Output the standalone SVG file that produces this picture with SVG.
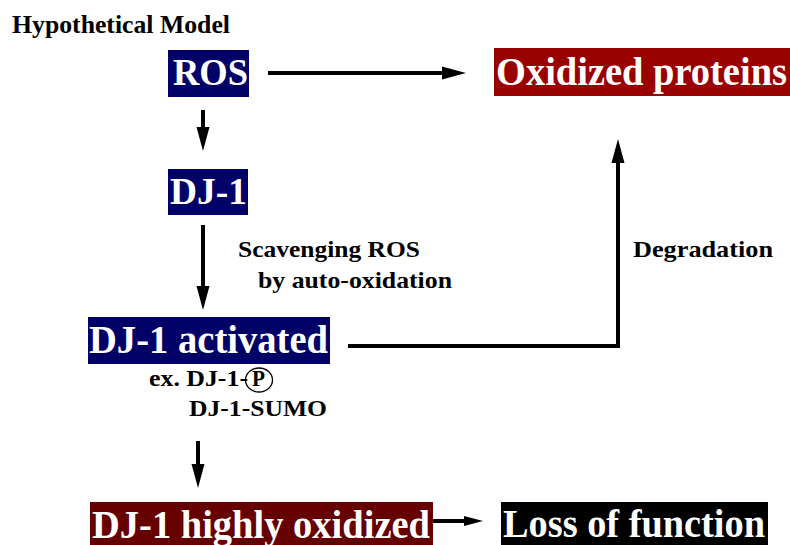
<svg xmlns="http://www.w3.org/2000/svg" width="790" height="545" viewBox="0 0 790 545">
<defs>
<style>
.lbl{font-family:"Liberation Serif","Times New Roman",serif;font-weight:bold;fill:#000;}
.big{font-family:"Liberation Serif","Times New Roman",serif;font-weight:bold;fill:#fff;}
.con{stroke:#000;stroke-width:4;fill:none;stroke-linecap:butt;}
</style>
<marker id="ah" markerUnits="userSpaceOnUse" markerWidth="26" markerHeight="16" refX="0" refY="8" orient="auto" overflow="visible">
<path d="M0,1.5 L24,8 L0,14.5 z" fill="#000"/>
</marker>
<marker id="ahs" markerUnits="userSpaceOnUse" markerWidth="20" markerHeight="12" refX="0" refY="6" orient="auto" overflow="visible">
<path d="M0,1 L19,6 L0,11 z" fill="#000"/>
</marker>
</defs>
<rect width="790" height="545" fill="#fff"/>
<text class="lbl" x="12" y="33" font-size="26" textLength="218" lengthAdjust="spacingAndGlyphs">Hypothetical Model</text>

<g id="connectors">
<line class="con" x1="268" y1="73" x2="442" y2="73" stroke-linecap="round" marker-end="url(#ah)"/>
<line class="con" x1="203" y1="110" x2="203" y2="127" marker-end="url(#ah)"/>
<line class="con" x1="203" y1="225" x2="203" y2="286" marker-end="url(#ah)"/>
<polyline class="con" points="348,346 618,346 618,163" marker-end="url(#ah)"/>
<line class="con" x1="198" y1="441" x2="198" y2="464" marker-end="url(#ah)"/>
<line class="con" x1="433" y1="521" x2="464" y2="521" marker-end="url(#ahs)"/>
</g>

<g id="ros">
<rect x="168" y="50" width="81" height="47" fill="#000066"/>
<text class="big" x="173" y="85" font-size="38" textLength="75" lengthAdjust="spacingAndGlyphs">ROS</text>
</g>
<g id="oxidized-proteins">
<rect x="494" y="48" width="296" height="48" fill="#990000"/>
<text class="big" x="496" y="85" font-size="40" textLength="291" lengthAdjust="spacingAndGlyphs">Oxidized proteins</text>
</g>
<g id="dj1">
<rect x="168" y="169" width="80" height="46" fill="#000066"/>
<text class="big" x="170" y="204" font-size="37" textLength="77" lengthAdjust="spacingAndGlyphs">DJ-1</text>
</g>
<g id="scavenging-label">
<text class="lbl" x="238" y="257" font-size="23" textLength="182" lengthAdjust="spacingAndGlyphs">Scavenging ROS</text>
<text class="lbl" x="258" y="288" font-size="23" textLength="194" lengthAdjust="spacingAndGlyphs">by auto-oxidation</text>
</g>
<g id="degradation-label">
<text class="lbl" x="633" y="257" font-size="23" textLength="140" lengthAdjust="spacingAndGlyphs">Degradation</text>
</g>
<g id="dj1-activated">
<rect x="88" y="317" width="242" height="47" fill="#000066"/>
<text class="big" x="89" y="353" font-size="39" textLength="239" lengthAdjust="spacingAndGlyphs">DJ-1 activated</text>
</g>
<g id="examples">
<text class="lbl" x="149" y="386" font-size="23" textLength="99" lengthAdjust="spacingAndGlyphs">ex. DJ-1-</text>
<text class="lbl" x="252" y="386" font-size="23" textLength="13" lengthAdjust="spacingAndGlyphs">P</text>
<ellipse cx="259" cy="380" rx="13.5" ry="12" fill="none" stroke="#000" stroke-width="1.3"/>
<text class="lbl" x="189" y="416" font-size="23" textLength="138" lengthAdjust="spacingAndGlyphs">DJ-1-SUMO</text>
</g>
<g id="dj1-highly-oxidized">
<rect x="90" y="502" width="343" height="43" fill="#660000"/>
<text class="big" x="92" y="538" font-size="41" textLength="338" lengthAdjust="spacingAndGlyphs">DJ-1 highly oxidized</text>
</g>
<g id="loss-of-function">
<rect x="501" y="502" width="267" height="43" fill="#000"/>
<text class="big" x="503" y="537" font-size="40" textLength="262" lengthAdjust="spacingAndGlyphs">Loss of function</text>
</g>
</svg>
